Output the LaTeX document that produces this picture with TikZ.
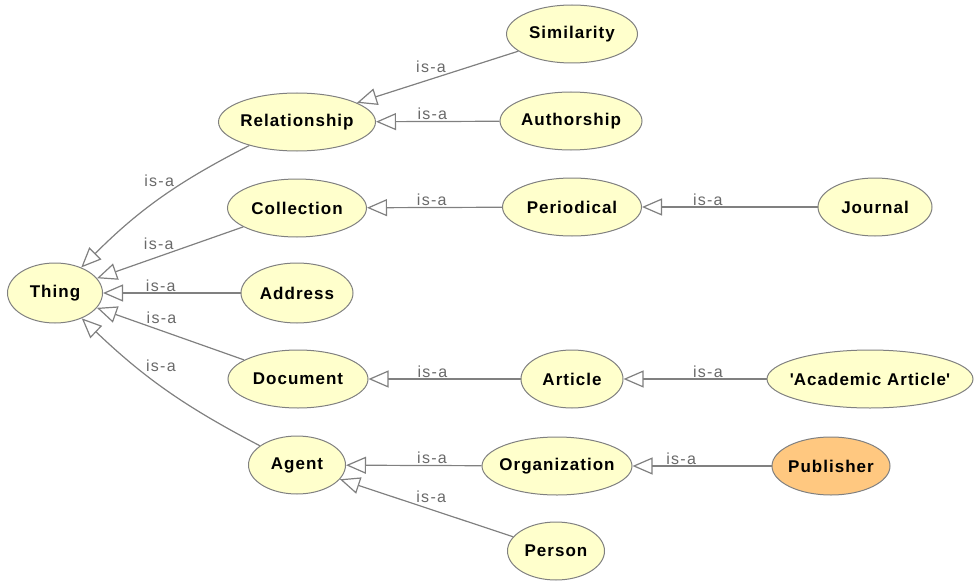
\documentclass[tikz,border=0pt]{standalone}
\usepackage{fontspec}
\setmainfont{Liberation Sans}
\newfontfamily\clsfont[LetterSpace=6]{Liberation Sans}
\newfontfamily\isafont[LetterSpace=8]{Liberation Sans}
\usetikzlibrary{shapes.geometric,arrows.meta,calc,positioning}
\definecolor{clsfill}{RGB}{255,255,204}
\definecolor{pubfill}{RGB}{255,200,128}
\definecolor{edgegray}{RGB}{128,128,128}
\definecolor{isagray}{RGB}{105,105,105}

\begin{document}
\begin{tikzpicture}[x=1pt,y=-1pt,
  every node/.style={ellipse,draw=edgegray,line width=1pt,fill=clsfill,minimum height=58pt,inner xsep=-30pt,inner ysep=0pt,font=\clsfont\bfseries\fontsize{17}{17}\selectfont},
  isa/.style={draw=edgegray,line width=1.2pt,-{Triangle[fill=white,length=20pt,width=17pt]}},
  lbl/.style={draw=none,fill=none,shape=rectangle,minimum width=0pt,minimum height=0pt,auto,swap,inner sep=1pt,text=isagray,font=\isafont\fontsize{16}{16}\selectfont}]
\useasboundingbox (0,0) rectangle (974,583);
\node [minimum width=95pt,minimum height=60pt] (Thing) at (55,293) {Thing};
\node [minimum width=157pt] (Relationship) at (297,122) {Relationship};
\node [minimum width=139pt] (Collection) at (297,208) {Collection};
\node [minimum width=112pt,minimum height=60pt] (Address) at (297,293) {Address};
\node [minimum width=140pt] (Document) at (298,379) {Document};
\node [minimum width=97pt] (Agent) at (297,465) {Agent};
\node [minimum width=131pt] (Similarity) at (572,34) {Similarity};
\node [minimum width=142pt] (Authorship) at (571,121) {Authorship};
\node [minimum width=139pt] (Periodical) at (572,207) {Periodical};
\node [minimum width=114pt] (Journal) at (875,207) {Journal};
\node [minimum width=102pt] (Article) at (572,379) {Article};
\node [minimum width=206pt] (AcademicArticle) at (870,379) {\textquotesingle Academic Article\textquotesingle};
\node [minimum width=150pt] (Organization) at (557,466) {Organization};
\node [minimum width=118pt,fill=pubfill] (Publisher) at (831,466) {Publisher};
\node [minimum width=97pt] (Person) at (556,551) {Person};

% subclasses of Thing
\draw [isa] (Relationship) to[bend right=9] node [lbl,pos=.40] {is-a} (Thing);
\draw [isa] (Collection) -- node [lbl,pos=.466] {is-a} (Thing);
\draw [isa] (Address) -- node [lbl,pos=.58] {is-a} (Thing);
\draw [isa] (Document) -- node [lbl,pos=.672] {is-a} (Thing);
\draw [isa] (Agent) to[bend left=8] node [lbl,pos=.63] {is-a} (Thing);

% second level
\draw [isa] (Similarity) -- node [lbl,pos=.44] {is-a} (Relationship);
\draw [isa] (Authorship) -- node [lbl,pos=.544] {is-a} (Relationship);
\draw [isa] (Periodical) -- node [lbl,pos=.52] {is-a} (Collection);
\draw [isa] (Article) -- node [lbl,pos=.58] {is-a} (Document);
\draw [isa] (Organization) -- node [lbl,pos=.365] {is-a} (Agent);
\draw [isa] (Person) -- node [lbl,pos=.567] {is-a} (Agent);

% third level
\draw [isa] (Journal) -- node [lbl,pos=.625] {is-a} (Periodical);
\draw [isa] (AcademicArticle) -- node [lbl,pos=.41] {is-a} (Article);
\draw [isa] (Publisher) -- node [lbl,pos=.65] {is-a} (Organization);
\end{tikzpicture}
\end{document}
